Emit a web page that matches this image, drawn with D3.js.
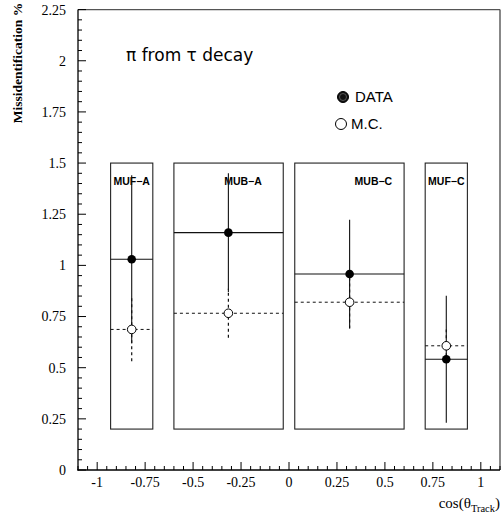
<!DOCTYPE html>
<html><head><meta charset="utf-8">
<script src="https://cdn.jsdelivr.net/npm/d3@7"></script>
<style>body{margin:0;background:#fff}svg{display:block}</style>
</head><body>
<script>
// ---- data ----
const boxNames = ["MUF-A", "MUB-A", "MUB-C", "MUF-C"];
const boxLo = [-0.93, -0.60, 0.03, 0.71];
const boxHi = [-0.71, -0.03, 0.60, 0.93];
const boxBottom = 0.2, boxTop = 1.5;
const labelPos = [-0.82, -0.24, 0.44, 0.82];
const pointX = [-0.82, -0.316, 0.316, 0.82];
const dataVal = [1.03, 1.16, 0.958, 0.541];
const dataErr = [0.41, 0.29, 0.265, 0.31];
const mcVal = [0.687, 0.766, 0.82, 0.607];
const mcErr = [0.155, 0.12, 0.128, 0.08];
const xTicks = [-1, -0.75, -0.5, -0.25, 0, 0.25, 0.5, 0.75, 1];
const yTicks = [0, 0.25, 0.5, 0.75, 1, 1.25, 1.5, 1.75, 2, 2.25];

const W = 502, H = 518;
const svg = d3.select("body").append("svg").attr("width", W).attr("height", H);
const L = 78, R = 500, T = 9.6, B = 470;
const x = d3.scaleLinear().domain([-1.1, 1.1]).range([L, R]);
const y = d3.scaleLinear().domain([0, 2.25]).range([B, T]);
const serif = "'Liberation Serif','Times New Roman',serif";
const sans = "'Liberation Sans',Arial,Helvetica,sans-serif";
const wide = "'DejaVu Sans',Verdana,sans-serif";

// frame
const fr = svg.append("g").attr("stroke", "#555").attr("stroke-width", 1.4).attr("fill", "none");
fr.append("line").attr("x1", L).attr("x2", R).attr("y1", T).attr("y2", T);
fr.append("line").attr("x1", R).attr("x2", R).attr("y1", T).attr("y2", B);
const ax = svg.append("g").attr("stroke", "#000").attr("stroke-width", 1.3);
ax.append("line").attr("x1", L).attr("x2", L).attr("y1", T).attr("y2", B + 0.6);
ax.append("line").attr("x1", L - 0.6).attr("x2", R).attr("y1", B).attr("y2", B);

// minor/major ticks
const yMinor = d3.range(0, 2.2501, 0.05);
yMinor.forEach((v, i) => {
  const major = i % 5 === 0;
  ax.append("line").attr("x1", L).attr("x2", L + (major ? 8 : 4))
    .attr("y1", y(v)).attr("y2", y(v)).attr("stroke-width", 1);
});
const xMinor = d3.range(-1.1, 1.1001, 0.05);
xMinor.forEach(v => {
  const major = Math.abs(v * 4 - Math.round(v * 4)) < 1e-6;
  ax.append("line").attr("x1", x(v)).attr("x2", x(v))
    .attr("y1", B).attr("y2", B - (major ? 8 : 4)).attr("stroke-width", 1);
});

// tick labels
const fmt = v => String(v);
svg.append("g").selectAll("text").data(yTicks).join("text")
  .attr("x", 66).attr("y", d => y(d)).attr("dy", "0.35em")
  .attr("text-anchor", "end").attr("font-family", serif).attr("font-size", 14)
  .text(fmt);
svg.append("g").selectAll("text").data(xTicks).join("text")
  .attr("x", d => x(d)).attr("y", 487)
  .attr("text-anchor", "middle").attr("font-family", serif).attr("font-size", 14)
  .text(fmt);

// axis titles
svg.append("text").attr("transform", "translate(22,63) rotate(-90)")
  .attr("text-anchor", "middle").attr("font-family", serif).attr("font-size", 13.5)
  .attr("font-weight", "bold").text("Missidentification %");
const xt = svg.append("text").attr("x", 500).attr("y", 508).attr("text-anchor", "end")
  .attr("font-family", serif).attr("font-size", 15);
xt.append("tspan").text("cos(θ");
xt.append("tspan").attr("font-size", 10.5).attr("dy", 4).text("Track");
xt.append("tspan").attr("dy", -4).text(")");

// title & legend
svg.append("text").attr("x", 126).attr("y", 61).attr("font-family", wide)
  .attr("font-size", 17).text("π from τ decay");
svg.append("circle").attr("cx", 343).attr("cy", 97).attr("r", 5.5)
  .attr("fill", "#111").attr("stroke", "#000").attr("stroke-width", 1);
svg.append("circle").attr("cx", 343).attr("cy", 97).attr("r", 3.5)
  .attr("fill", "none").attr("stroke", "#666").attr("stroke-width", 0.8);
svg.append("text").attr("x", 355).attr("y", 102).attr("font-family", sans)
  .attr("font-size", 15).text("DATA");
svg.append("circle").attr("cx", 341).attr("cy", 124).attr("r", 5.5)
  .attr("fill", "none").attr("stroke", "#000").attr("stroke-width", 1);
svg.append("text").attr("x", 351).attr("y", 129).attr("font-family", sans)
  .attr("font-size", 15).text("M.C.");

// boxes
const g = svg.append("g");
boxNames.forEach((name, i) => {
  g.append("rect").attr("x", x(boxLo[i])).attr("y", y(boxTop))
    .attr("width", x(boxHi[i]) - x(boxLo[i])).attr("height", y(boxBottom) - y(boxTop))
    .attr("fill", "none").attr("stroke", "#222").attr("stroke-width", 1.1);
  g.append("text").attr("x", x(labelPos[i])).attr("y", y(boxTop) + 22)
    .attr("text-anchor", "middle").attr("font-family", sans).attr("font-size", 10.5)
    .attr("font-weight", "bold").text(name.replace("-", "\u2212"));
});

// MC: dashed level + dashed error
boxNames.forEach((name, i) => {
  g.append("line").attr("x1", x(boxLo[i])).attr("x2", x(boxHi[i]))
    .attr("y1", y(mcVal[i])).attr("y2", y(mcVal[i]))
    .attr("stroke", "#111").attr("stroke-width", 1).attr("stroke-dasharray", "3,3");
  g.append("line").attr("x1", x(pointX[i])).attr("x2", x(pointX[i]))
    .attr("y1", y(mcVal[i] - mcErr[i])).attr("y2", y(mcVal[i] + mcErr[i]))
    .attr("stroke", "#111").attr("stroke-width", 1.2).attr("stroke-dasharray", "3,3");
});
// Data: solid level + solid error
boxNames.forEach((name, i) => {
  g.append("line").attr("x1", x(boxLo[i])).attr("x2", x(boxHi[i]))
    .attr("y1", y(dataVal[i])).attr("y2", y(dataVal[i]))
    .attr("stroke", "#111").attr("stroke-width", 1.1);
  g.append("line").attr("x1", x(pointX[i])).attr("x2", x(pointX[i]))
    .attr("y1", y(dataVal[i] - dataErr[i])).attr("y2", y(dataVal[i] + dataErr[i]))
    .attr("stroke", "#111").attr("stroke-width", 1.1);
});
// markers
boxNames.forEach((name, i) => {
  g.append("circle").attr("cx", x(pointX[i])).attr("cy", y(mcVal[i])).attr("r", 4.3)
    .attr("fill", "#fff").attr("stroke", "#000").attr("stroke-width", 1);
  g.append("circle").attr("cx", x(pointX[i])).attr("cy", y(dataVal[i])).attr("r", 4.3)
    .attr("fill", "#000");
});
</script>
</body></html>
